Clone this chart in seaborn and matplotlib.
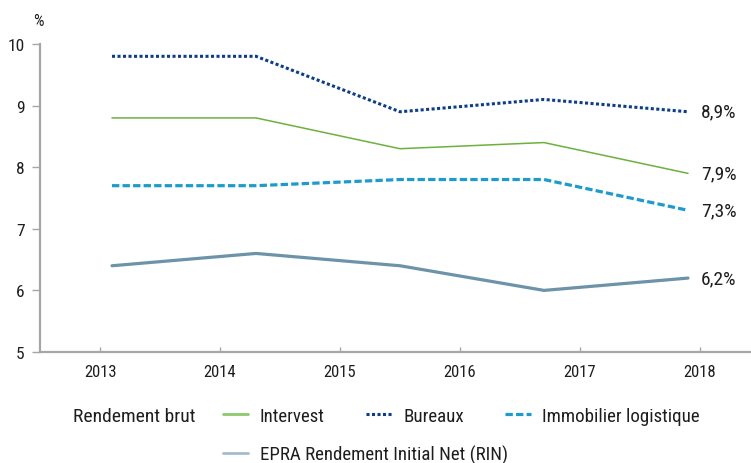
import matplotlib
matplotlib.use("Agg")
import matplotlib.pyplot as plt
import seaborn as sns
import pandas as pd

# Yield series (%), one value per period
year_labels = ["2013", "2014", "2015", "2016", "2017", "2018"]
intervest = [8.8, 8.8, 8.3, 8.4, 7.9]
bureaux = [9.8, 9.8, 8.9, 9.1, 8.9]
logistique = [7.7, 7.7, 7.8, 7.8, 7.3]
epra_rin = [6.4, 6.6, 6.4, 6.0, 6.2]

series_names = ["Intervest", "Bureaux", "Immobilier logistique",
                "EPRA Rendement Initial Net (RIN)"]
series_values = [intervest, bureaux, logistique, epra_rin]

sns.set_theme(style="white")
plt.rcParams["font.family"] = ["Roboto Condensed", "DejaVu Sans"]

TEXT = "#1e1e1e"
W, H = 751, 464
fig = plt.figure(figsize=(W / 100, H / 100), dpi=100)
# axes spans x 40..760 px, y 45..353 px
ax = fig.add_axes([40 / W, (H - 353) / H, 720 / W, 308 / H])

# x range covers the year categories; the periods sit in equal bins across it
tick_pos = [int(y) for y in year_labels]
x_lo, x_hi = tick_pos[0] - 0.5, tick_pos[-1] + 0.5
n = len(intervest)
period_pos = [x_lo + (i + 0.5) * (x_hi - x_lo) / n for i in range(n)]

styles = {
    "Intervest": dict(color="#6ab23c", lw=1.1, ls="-"),
    "Bureaux": dict(color="#0b3d8c", lw=2.2, ls=(0, (1, 0.8))),
    "Immobilier logistique": dict(color="#1b9bd0", lw=2.3, ls=(0, (2.3, 1.0))),
    "EPRA Rendement Initial Net (RIN)": dict(color="#6c93a8", lw=2.3, ls="-"),
}
# legend swatches are drawn a little lighter for the solid series
legend_colors = {"Intervest": "#8cc86c",
                 "EPRA Rendement Initial Net (RIN)": "#a3bccb"}

lines = {}
for name, vals in zip(series_names, series_values):
    df = pd.DataFrame({"x": period_pos, "y": vals})
    st = styles[name]
    sns.lineplot(data=df, x="x", y="y", ax=ax, color=st["color"],
                 linewidth=st["lw"], linestyle=st["ls"], label=name,
                 legend=False)
    lines[name] = ax.get_lines()[-1]
    ax.annotate(f"{vals[-1]:.1f}%".replace(".", ","),
                xy=(period_pos[-1], vals[-1]), xytext=(9.5, 0),
                textcoords="offset points", va="center", ha="left",
                fontsize=14, color=TEXT)

ax.set_xlim(x_lo, x_hi)
ax.set_ylim(5, 10)
ax.set_xticks(tick_pos)
ax.set_xticklabels(year_labels)
ax.set_yticks([5, 6, 7, 8, 9, 10])
ax.set_xlabel("")
ax.set_ylabel("")

for side in ["top", "right"]:
    ax.spines[side].set_visible(False)
for side in ["left", "bottom"]:
    ax.spines[side].set_color("#a6a6a6")
    ax.spines[side].set_linewidth(1.6)

ax.tick_params(axis="y", direction="out", length=6, width=1.0,
               color="#a6a6a6", pad=5, labelsize=12.5, labelcolor=TEXT,
               left=True)
ax.tick_params(axis="x", direction="in", length=3.5, width=1.0,
               color="#a6a6a6", pad=9, labelsize=12, labelcolor=TEXT,
               bottom=True)

fig.text(38 / W, 1 - 22 / H, "%", ha="center", va="center", fontsize=12,
         color=TEXT)

# legend
fig.text(73 / W, 1 - 417 / H, "Rendement brut", ha="left", va="center",
         fontsize=14, color=TEXT)
row1 = ["Intervest", "Bureaux", "Immobilier logistique"]
leg_kw = dict(frameon=False, fontsize=13.6, handlelength=1.35,
              handletextpad=0.6, columnspacing=2.2, borderpad=0,
              borderaxespad=0, loc="center left")
leg1 = fig.legend([lines[k] for k in row1], row1, ncol=3,
                  bbox_to_anchor=(223 / W, 1 - 417 / H), **leg_kw)
leg2 = fig.legend([lines[series_names[3]]], [series_names[3]], ncol=1,
                  bbox_to_anchor=(223 / W, 1 - 455 / H), **leg_kw)
for leg in (leg1, leg2):
    for t in leg.get_texts():
        t.set_color(TEXT)
    for h, t in zip(leg.get_lines(), leg.get_texts()):
        name = t.get_text()
        if name in legend_colors:
            h.set_color(legend_colors[name])
            h.set_linewidth(2.0)

fig.savefig("out.png", dpi=100)
